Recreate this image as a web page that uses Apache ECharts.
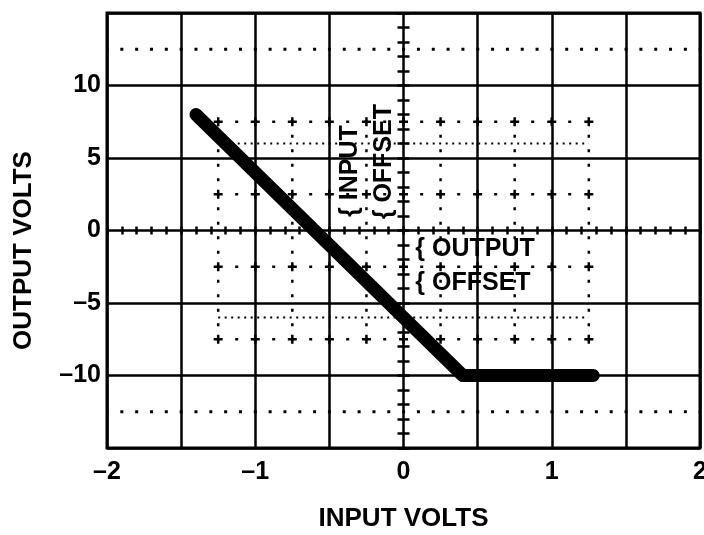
<!DOCTYPE html>
<html>
<head>
<meta charset="utf-8">
<script src="https://cdn.jsdelivr.net/npm/echarts@6/dist/echarts.min.js"></script>
<style>
  html, body { margin: 0; padding: 0; background: #fff; }
  #main { width: 704px; height: 535px; }
</style>
</head>
<body>
<div id="main"></div>
<script>
// transfer curve (input volts -> output volts)
var inputVolts = [-1.4, 0.4, 1.28];
var outputVolts = [8, -10, -10];

// offset graticule, drawn dotted
var offsetCols = [-1.25, -0.75, -0.25, 0.25, 0.75, 1.25];
var offsetRows = [7.5, 2.5, -2.5, -7.5];
var offsetFineRows = [6, -6];
var crossX = [-1.25, -1, -0.75, -0.5, -0.25, 0, 0.25, 0.5, 0.75, 1, 1.25];
var outerRows = [12.5, -12.5];

var xTicks = [-2, -1, 0, 1, 2];
var yTicks = [-10, -5, 0, 5, 10];

var FONT = 'Liberation Sans, Arial, sans-serif';

function fmt(v) {
    return v < 0 ? '\u2013' + Math.abs(v) : String(v);
}

var black = '#000';
var series = [];

// dotted rows / columns of the offset graticule
offsetRows.forEach(function (y) {
    series.push({
        type: 'line', silent: true, symbol: 'none',
        data: [[offsetCols[0], y], [offsetCols[offsetCols.length - 1], y]],
        lineStyle: { color: black, width: 2.5, type: [3, 15.5], dashOffset: 1.5 }
    });
});
offsetFineRows.forEach(function (y) {
    series.push({
        type: 'line', silent: true, symbol: 'none',
        data: [[offsetCols[0], y], [offsetCols[offsetCols.length - 1], y]],
        lineStyle: { color: black, width: 2, type: [2, 4.5] }
    });
});
offsetCols.forEach(function (x) {
    series.push({
        type: 'line', silent: true, symbol: 'none',
        data: [[x, offsetRows[0]], [x, offsetRows[offsetRows.length - 1]]],
        lineStyle: { color: black, width: 2.5, type: [3, 11.5], dashOffset: 1.5 }
    });
});
outerRows.forEach(function (y) {
    series.push({
        type: 'line', silent: true, symbol: 'none',
        data: [[-2, y], [2, y]],
        lineStyle: { color: black, width: 3, type: [3, 11.83], dashOffset: 1.5 }
    });
});

// crosses on the offset rows
var crossPts = [];
offsetRows.forEach(function (y) {
    crossX.forEach(function (x) { crossPts.push([x, y]); });
});
series.push({
    type: 'scatter', silent: true, symbol: 'rect', symbolSize: [2.5, 9],
    itemStyle: { color: black, opacity: 1 }, data: crossPts
});
series.push({
    type: 'scatter', silent: true, symbol: 'rect', symbolSize: [9, 2.5],
    itemStyle: { color: black, opacity: 1 }, data: crossPts
});

// the transfer curve
series.push({
    type: 'line', silent: true, symbol: 'none', z: 5,
    data: inputVolts.map(function (x, i) { return [x, outputVolts[i]]; }),
    lineStyle: { color: black, width: 13, cap: 'round', join: 'round' }
});

// annotations
var labelStyle = {
    show: true, position: 'inside', formatter: '{b}', opacity: 1,
    color: black, textBorderWidth: 0, textBorderColor: 'transparent',
    fontSize: 25, fontWeight: 'bold', fontFamily: FONT
};
series.push({
    type: 'scatter', silent: true, symbolSize: 1, z: 6,
    itemStyle: { color: 'transparent', opacity: 1 },
    data: [
        { name: '{ INPUT', value: [-0.36, 4.1], label: { rotate: 90 } },
        { name: '{ OFFSET', value: [-0.13, 4.75], label: { rotate: 90 } },
        { name: '{ OUTPUT', value: [0.08, -1.3], label: { align: 'left' } },
        { name: '{ OFFSET', value: [0.08, -3.65], label: { align: 'left' } }
    ],
    label: labelStyle
});

function tickAxis(pos, len, min, max, interval) {
    return {
        type: 'value', min: min, max: max, interval: interval, position: pos,
        axisLine: { show: false, onZero: true, onZeroAxisIndex: 0 },
        axisTick: { show: true, length: len, lineStyle: { color: black, width: 2.5 } },
        minorTick: { show: true, splitNumber: 5, length: len, lineStyle: { color: black, width: 2.5 } },
        axisLabel: { show: false },
        splitLine: { show: false }
    };
}

var chart = echarts.init(document.getElementById('main'), null, { renderer: 'canvas' });
var option = {
    backgroundColor: '#fff',
    animation: false,
    grid: {
        left: 107, right: 4, top: 13, bottom: 87,
        containLabel: false, outerBoundsMode: 'none',
        show: true, borderColor: black, borderWidth: 3
    },
    xAxis: [
        {
            type: 'value', min: -2, max: 2, interval: 0.5, position: 'bottom',
            axisLine: { show: false, onZero: false },
            axisTick: { show: false },
            axisLabel: {
                color: black, fontSize: 25, fontWeight: 'bold', fontFamily: FONT, margin: 12,
                formatter: function (v) { return xTicks.indexOf(v) >= 0 ? fmt(v) : ''; }
            },
            splitLine: { show: true, lineStyle: { color: black, width: 2.5 } },
            name: 'INPUT VOLTS', nameLocation: 'middle', nameGap: 58,
            nameTextStyle: { color: black, fontSize: 26, fontWeight: 'bold', fontFamily: FONT }
        },
        tickAxis('bottom', 4, -2, 2, 0.5),
        tickAxis('top', 4, -2, 2, 0.5)
    ],
    yAxis: [
        {
            type: 'value', min: -15, max: 15, interval: 5, position: 'left',
            axisLine: { show: false, onZero: false },
            axisTick: { show: false },
            axisLabel: {
                color: black, fontSize: 25, fontWeight: 'bold', fontFamily: FONT, margin: 6,
                formatter: function (v) { return yTicks.indexOf(v) >= 0 ? fmt(v) : ''; }
            },
            splitLine: { show: true, lineStyle: { color: black, width: 2.5 } },
            name: 'OUTPUT VOLTS', nameLocation: 'middle', nameGap: 70,
            nameTextStyle: { color: black, fontSize: 26, fontWeight: 'bold', fontFamily: FONT, padding: [0, 40, 0, 0] }
        },
        tickAxis('left', 6, -15, 15, 5),
        tickAxis('right', 6, -15, 15, 5)
    ],
    series: series
};
chart.setOption(option);
</script>
</body>
</html>
